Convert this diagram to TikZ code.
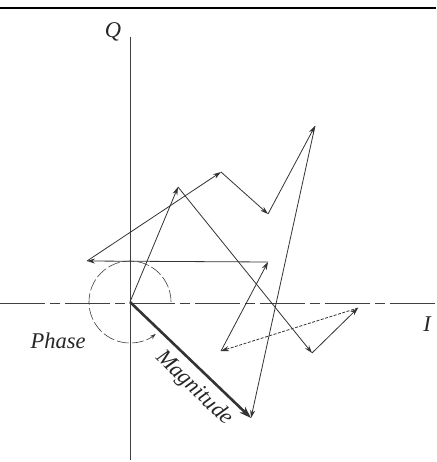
\documentclass[tikz,border=0pt]{standalone}
\usepackage{fontspec}
\setmainfont{Liberation Serif}
\usetikzlibrary{arrows.meta}
\begin{document}
\begin{tikzpicture}[x=1pt,y=-1pt,
  vec/.style={line width=0.8pt, draw=black!80, -{Stealth[length=8pt,width=5pt]}},
  axis/.style={line width=0.7pt, draw=black!75},
  lbl/.style={font=\fontsize{22.5}{24}\selectfont\itshape, inner sep=0pt, text=black!85}]
\useasboundingbox (0,0) rectangle (436,462);
\fill[white] (0,0) rectangle (436,462);
% top rule
\draw[line width=2.4pt] (0,8) -- (436,8);
% points
\coordinate (O) at (130,302);
\coordinate (A) at (178,187);
\coordinate (B) at (312,353);
\coordinate (C) at (358,308);
\coordinate (D) at (221,351);
\coordinate (E) at (268,262);
\coordinate (F) at (87,261);
\coordinate (G) at (221,172);
\coordinate (H) at (268,214);
\coordinate (J) at (315,126);
\coordinate (K) at (251,418);
\coordinate (qt) at (130,37);
\coordinate (qb) at (130,460);
\coordinate (il) at (0,303);
\coordinate (ir) at (436,303);
% axes
\draw[axis] (qt) -- (qb);
\draw[axis, dash pattern=on 45pt off 5pt on 10pt off 5pt] (il) -- (ir);
% labels
\node[lbl] (Ql) at (113,32) {Q};
\node[lbl] (Il) at (427,324) {I};
\node[lbl] (Ph) at (58,341) {Phase};
\node[lbl, rotate=-44] (Mg) at (194,388) {Magnitude};
% phase arc
\draw[line width=0.6pt, draw=black!75, dash pattern=on 12pt off 3pt, -{Stealth[length=6pt,width=4pt]}]
  (O) ++(41,0) arc[start angle=0, end angle=-309, radius=41];
% vector chain
\draw[vec] (O) -- (A);
\draw[vec] (A) -- (B);
\draw[vec] (B) -- (C);
\draw[vec, dash pattern=on 3pt off 1.5pt] (C) -- (D);
\draw[vec] (D) -- (E);
\draw[vec] (E) -- (F);
\draw[vec] (F) -- (G);
\draw[vec] (G) -- (H);
\draw[vec] (H) -- (J);
\draw[vec] (J) -- (K);
% resultant
\draw[line width=2.6pt, draw=black!80, -{Stealth[length=12pt,width=8pt]}] (O) -- (K);
\end{tikzpicture}
\end{document}
